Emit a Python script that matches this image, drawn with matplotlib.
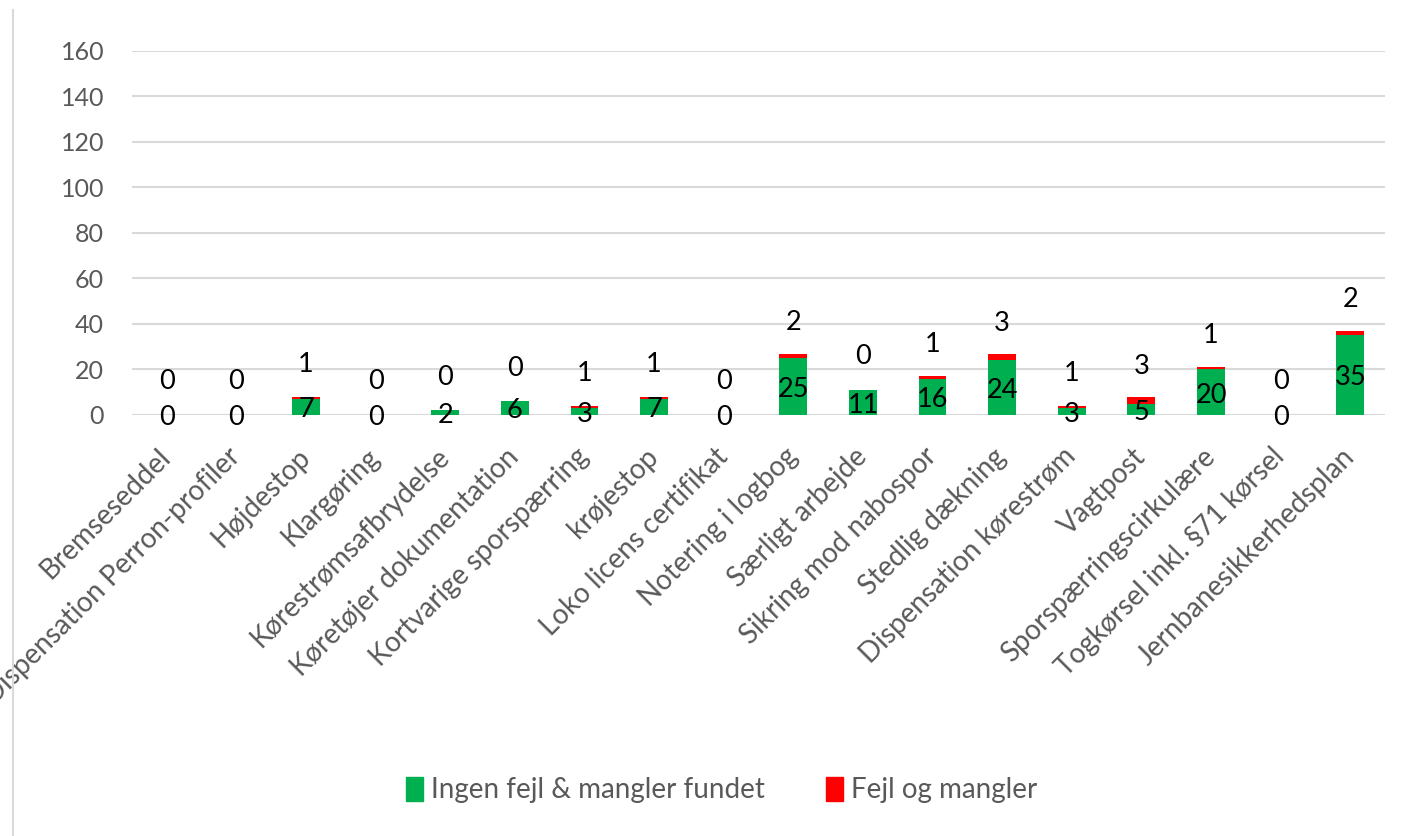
import matplotlib.pyplot as plt
from matplotlib.lines import Line2D
from matplotlib.patches import Patch
import numpy as np

plt.rcParams["font.family"] = ["Lato", "DejaVu Sans"]

categories = [
    "Bremseseddel", "Dispensation Perron-profiler", "Højdestop", "Klargøring",
    "Kørestrømsafbrydelse", "Køretøjer dokumentation", "Kortvarige sporspærring",
    "krøjestop", "Loko licens certifikat", "Notering i logbog", "Særligt arbejde",
    "Sikring mod nabospor", "Stedlig dækning", "Dispensation kørestrøm", "Vagtpost",
    "Sporspærringscirkulære", "Togkørsel inkl. §71 kørsel", "Jernbanesikkerhedsplan",
]
ingen_fejl = [0, 0, 7, 0, 2, 6, 3, 7, 0, 25, 11, 16, 24, 3, 5, 20, 0, 35]
fejl = [0, 0, 1, 0, 0, 0, 1, 1, 0, 2, 0, 1, 3, 1, 3, 1, 0, 2]

GREEN = "#00B050"
RED = "#FF0000"
GRID = "#D9D9D9"
TXT = "#595959"

fig = plt.figure(figsize=(14.1, 8.36), dpi=100)
ax = fig.add_axes([0.0936, 0.5036, 0.8887, 0.4354])

x = np.arange(len(categories))
w = 0.40
ax.bar(x, ingen_fejl, w, color=GREEN, zorder=3)
ax.bar(x, fejl, w, bottom=ingen_fejl, color=RED, zorder=3)

for xi, g, r in zip(x, ingen_fejl, fejl):
    ax.annotate(str(g), xy=(xi, g / 2), xytext=(0, -2), textcoords="offset points",
                ha="center", va="center", fontsize=19.5, color="black", zorder=4)
    ax.annotate(str(r), xy=(xi, g + r / 2), xytext=(0, 24), textcoords="offset points",
                ha="center", va="center", fontsize=19.5, color="black", zorder=4)

ax.set_xlim(-0.5, len(categories) - 0.5)
ax.set_ylim(0, 160)
ax.set_yticks(range(0, 161, 20))
ax.yaxis.grid(True, color=GRID, linewidth=1.5, zorder=0)
ax.set_axisbelow(True)
for s in ax.spines.values():
    s.set_visible(False)
ax.axhline(0, color=GRID, linewidth=1.5, zorder=1)
ax.tick_params(axis="both", length=0, labelcolor=TXT)
ax.tick_params(axis="y", pad=20, labelsize=18)
ax.set_xticks(x)
ax.set_xticklabels(categories, rotation=45, ha="right", va="center",
                   rotation_mode="anchor", fontsize=20)
ax.tick_params(axis="x", pad=27)

# chart area border on the left
fig.add_artist(Line2D([0.0092, 0.0092], [0.0, 0.988], color=GRID, linewidth=1.5))

handles = [Patch(color=GREEN), Patch(color=RED)]
fig.legend(handles, ["Ingen fejl & mangler fundet", "Fejl og mangler"],
           loc="center", bbox_to_anchor=(0.512, 0.055), ncol=2, frameon=False,
           fontsize=20, labelcolor=TXT, handlelength=0.6, handleheight=1.0,
           handletextpad=0.3, columnspacing=2.2)

fig.savefig("out.png", dpi=100)
